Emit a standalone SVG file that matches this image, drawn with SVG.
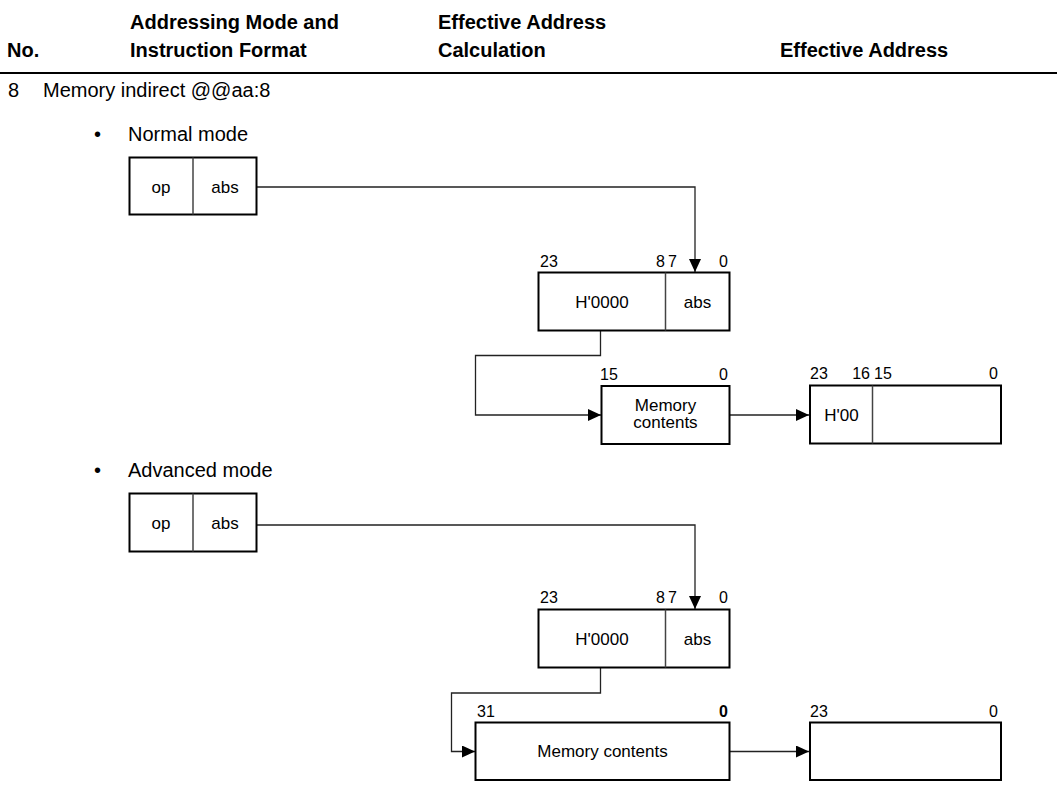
<svg xmlns="http://www.w3.org/2000/svg" width="1057" height="791" viewBox="0 0 1057 791">
<style>
text{font-family:"Liberation Sans",Arial,sans-serif;fill:#000}
.h{font-size:20px;font-weight:bold}
.t{font-size:20px}
.b{font-size:17px}
.n{font-size:16px}
.box{fill:#fff;stroke:#000;stroke-width:2}
.div{stroke:#444;stroke-width:1.5}
.c{fill:none;stroke:#222;stroke-width:1.3}
</style>
<defs>
<marker id="ar" markerUnits="userSpaceOnUse" markerWidth="14" markerHeight="12" refX="13" refY="6" orient="auto">
<path d="M0,0 L13,6 L0,12 Z" fill="#000"/>
</marker>
</defs>
<g id="header">
<text class="h" x="7" y="57">No.</text>
<text class="h" x="130" y="29">Addressing Mode and</text>
<text class="h" x="130" y="57">Instruction Format</text>
<text class="h" x="438" y="29">Effective Address</text>
<text class="h" x="438" y="57">Calculation</text>
<text class="h" x="780" y="57">Effective Address</text>
<line x1="0" y1="73" x2="1057" y2="73" stroke="#000" stroke-width="2"/>
<text class="t" x="8" y="97">8</text>
<text class="t" x="43" y="97">Memory indirect @@aa:8</text>
<text class="t" x="94" y="141">•</text>
<text class="t" x="128" y="141">Normal mode</text>
<text class="t" x="94" y="477">•</text>
<text class="t" x="128" y="477">Advanced mode</text>
</g>
<g id="connectors">
<polyline class="c" points="257,187 695,187 695,272" marker-end="url(#ar)"/>
<polyline class="c" points="600.5,331 600.5,355.5 475.5,355.5 475.5,415 601,415" marker-end="url(#ar)"/>
<line class="c" x1="730" y1="415" x2="809" y2="415" marker-end="url(#ar)"/>
<polyline class="c" points="257,525 695,525 695,609" marker-end="url(#ar)"/>
<polyline class="c" points="600.5,668 600.5,693 451.5,693 451.5,751.5 475,751.5" marker-end="url(#ar)"/>
<line class="c" x1="730" y1="751.5" x2="809" y2="751.5" marker-end="url(#ar)"/>
</g>
<g id="n-instr1">
<rect class="box" x="129.5" y="157.5" width="127" height="57"/>
<line class="div" x1="193" y1="157.5" x2="193" y2="214.5"/>
<text class="b" x="161" y="193" text-anchor="middle">op</text>
<text class="b" x="225" y="193" text-anchor="middle">abs</text>
</g>
<g id="n-addr1">
<rect class="box" x="538.5" y="272.5" width="191" height="58"/>
<line class="div" x1="665.5" y1="272.5" x2="665.5" y2="330.5"/>
<text class="b" x="602" y="308" text-anchor="middle">H'0000</text>
<text class="b" x="697.5" y="308" text-anchor="middle">abs</text>
<text class="n" x="540" y="266.5">23</text>
<text class="n" x="665" y="266.5" text-anchor="end">8</text>
<text class="n" x="668" y="266.5">7</text>
<text class="n" x="728" y="266.5" text-anchor="end">0</text>
</g>
<g id="n-mem1">
<rect class="box" x="601.5" y="386" width="128" height="58"/>
<text class="b" x="665.5" y="410.5" text-anchor="middle">Memory</text>
<text class="b" x="665.5" y="427.5" text-anchor="middle">contents</text>
<text class="n" x="600" y="380">15</text>
<text class="n" x="728" y="380" text-anchor="end">0</text>
</g>
<g id="n-ea1">
<rect class="box" x="810" y="385.5" width="191" height="58"/>
<line class="div" x1="872.5" y1="385.5" x2="872.5" y2="443.5"/>
<text class="b" x="841.5" y="420.5" text-anchor="middle">H'00</text>
<text class="n" x="810" y="378.5">23</text>
<text class="n" x="870" y="378.5" text-anchor="end">16</text>
<text class="n" x="874" y="378.5">15</text>
<text class="n" x="998" y="378.5" text-anchor="end">0</text>
</g>
<g id="n-instr2">
<rect class="box" x="129.5" y="493.5" width="127" height="58"/>
<line class="div" x1="193" y1="493.5" x2="193" y2="551.5"/>
<text class="b" x="161" y="529" text-anchor="middle">op</text>
<text class="b" x="225" y="529" text-anchor="middle">abs</text>
</g>
<g id="n-addr2">
<rect class="box" x="538.5" y="609.5" width="191" height="58"/>
<line class="div" x1="665.5" y1="609.5" x2="665.5" y2="667.5"/>
<text class="b" x="602" y="645" text-anchor="middle">H'0000</text>
<text class="b" x="697.5" y="645" text-anchor="middle">abs</text>
<text class="n" x="540" y="603">23</text>
<text class="n" x="665" y="603" text-anchor="end">8</text>
<text class="n" x="668" y="603">7</text>
<text class="n" x="728" y="603" text-anchor="end">0</text>
</g>
<g id="n-mem2">
<rect class="box" x="475.5" y="722.5" width="254" height="57.5"/>
<text class="b" x="602.5" y="757" text-anchor="middle">Memory contents</text>
<text class="n" x="477" y="716.5">31</text>
<text class="n" x="728" y="716.5" text-anchor="end" font-weight="bold">0</text>
</g>
<g id="n-ea2">
<rect class="box" x="810" y="722.5" width="191" height="57.5"/>
<text class="n" x="810" y="716.5">23</text>
<text class="n" x="998" y="716.5" text-anchor="end">0</text>
</g>
</svg>
